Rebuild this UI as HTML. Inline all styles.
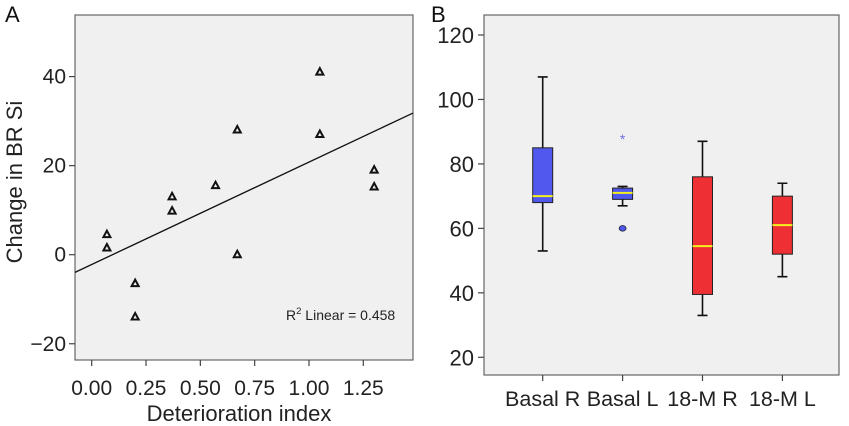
<!DOCTYPE html>
<html><head><meta charset="utf-8"><style>
html,body{margin:0;padding:0;background:#fff;}
svg{display:block;font-family:"Liberation Sans",sans-serif;}
</style></head><body>
<svg id="chart" width="849" height="426" viewBox="0 0 849 426">
<text x="5" y="22" font-size="22" fill="#111">A</text>
<text x="431" y="22" font-size="22" fill="#111">B</text>
<g id="pa"></g>
<g id="pb"></g>
</svg>
<script>
// Panel A data
const xVals = [0.07,0.07,0.20,0.20,0.37,0.37,0.57,0.67,0.67,1.05,1.05,1.30,1.30];
const yVals = [4.5,1.5,-6.5,-14,13,9.8,15.5,28,0,41,27,19,15.2];
const xTicksA = [0,0.25,0.5,0.75,1,1.25];
const xTickLabelsA = ["0.00","0.25","0.50","0.75","1.00","1.25"];
const yTicksA = [40,20,0,-20];
const yTickLabelsA = ["40","20","0","\u221220"];
const fitLine = [-2.2, 23.0]; // intercept, slope
// Panel B data
const cats = ["Basal R","Basal L","18-M R","18-M L"];
const mins = [53,67,33,45];
const q1s = [68,69,39.5,52];
const meds = [70,71,54.5,61];
const q3s = [85,72.5,76,70];
const maxs = [107,73,87,74];
const colors = ["#5058ee","#5058ee","#ee3035","#ee3035"];
const outlierCircles = [[1,60]];
const outlierStars = [[1,88]];
const yTicksB = [20,40,60,80,100,120];

const NS="http://www.w3.org/2000/svg";
function mk(parent,tag,attrs,text){const e=document.createElementNS(NS,tag);for(const k in attrs)e.setAttribute(k,attrs[k]);if(text!==undefined)e.textContent=text;parent.appendChild(e);return e;}

// Panel A
const pa=document.getElementById('pa');
const ax=v=>91.7+v*(363.3-91.7)/1.25;
const ay=v=>254.7-v*4.4525;
let r=mk(pa,'rect',{x:75,y:15,width:338,height:345,fill:'#f0f0f0',stroke:'#666','stroke-width':1.2});


xTicksA.forEach((t,i)=>{
  let l=mk(pa,'line',{x1:ax(t),x2:ax(t),y1:360,y2:366,stroke:'#444','stroke-width':1.2});
  
  
  let tx=mk(pa,'text',{x:ax(t),y:395,'font-size':21,'text-anchor':'middle',fill:'#222'},xTickLabelsA[i]);
  
  
});
yTicksA.forEach((t,i)=>{
  let l=mk(pa,'line',{x1:69,x2:75,y1:ay(t),y2:ay(t),stroke:'#444','stroke-width':1.2});
  
  
  let tx=mk(pa,'text',{x:66,y:ay(t)+7,'font-size':21,'text-anchor':'end',fill:'#222'},yTickLabelsA[i]);
  
  
});
const x0=(75-91.7)*1.25/(363.3-91.7), x1=(413-91.7)*1.25/(363.3-91.7);
let fl=mk(pa,'line',{x1:75,y1:ay(fitLine[0]+fitLine[1]*x0),x2:413,y2:ay(fitLine[0]+fitLine[1]*x1),stroke:'#111','stroke-width':1.3});


xVals.forEach((xv,i)=>{
  const cx=ax(xv),cy=ay(yVals[i]);
  let p=mk(pa,'path',{d:`M${cx},${cy-4}L${cx+3.5},${cy+2.5}L${cx-3.5},${cy+2.5}Z`,fill:'none',stroke:'#111','stroke-width':2});
  
  
});
let r2=mk(pa,'text',{x:286,y:320,'font-size':14,fill:'#222'});
r2.innerHTML='R<tspan font-size="9.5" dy="-6">2</tspan><tspan dy="6"> Linear = 0.458</tspan>';


let xt=mk(pa,'text',{x:239,y:421,'font-size':22,'text-anchor':'middle',fill:'#222'},'Deterioration index');


let yt=mk(pa,'text',{x:0,y:0,'font-size':22,'text-anchor':'middle',fill:'#222',transform:'translate(22,182) rotate(-90)'},'Change in BR Si');



// Panel B
const pb=document.getElementById('pb');
const bx=i=>542.7+i*79.9;
const by=v=>357.3-(v-20)*3.223;
let rb=mk(pb,'rect',{x:484,y:15,width:355,height:360,fill:'#f0f0f0',stroke:'#666','stroke-width':1.2});


yTicksB.forEach(t=>{
  let l=mk(pb,'line',{x1:478,x2:484,y1:by(t),y2:by(t),stroke:'#444','stroke-width':1.2});
  
  
  let tx=mk(pb,'text',{x:474,y:by(t)+8,'font-size':22,'text-anchor':'end',fill:'#222'},String(t));
  
  
});
cats.forEach((c,i)=>{
  const cx=bx(i);
  let l=mk(pb,'line',{x1:cx,x2:cx,y1:375,y2:381,stroke:'#444','stroke-width':1.2});
  
  
  let tx=mk(pb,'text',{x:cx,y:406,'font-size':21.5,'text-anchor':'middle',fill:'#222'},c);
  
  
  let w=mk(pb,'path',{d:`M${cx},${by(maxs[i])}V${by(q3s[i])}M${cx},${by(q1s[i])}V${by(mins[i])}M${cx-5},${by(maxs[i])}H${cx+5}M${cx-5},${by(mins[i])}H${cx+5}`,stroke:'#111','stroke-width':1.6,fill:'none'});
  
  
  let b=mk(pb,'rect',{x:cx-10,y:by(q3s[i]),width:20,height:by(q1s[i])-by(q3s[i]),fill:colors[i],stroke:'#222','stroke-width':1});
  
  
  let m=mk(pb,'line',{x1:cx-10,x2:cx+10,y1:by(meds[i]),y2:by(meds[i]),stroke:'#f4f020','stroke-width':2});
  
  
});
outlierCircles.forEach(o=>{
  let c=mk(pb,'ellipse',{cx:bx(o[0]),cy:by(o[1]),rx:3.5,ry:2.8,fill:'#5058ee',stroke:'#223','stroke-width':0.8});
  
  
});
outlierStars.forEach(o=>{
  let s=mk(pb,'text',{x:bx(o[0]),y:by(o[1])+6,'font-size':14,'text-anchor':'middle',fill:'#7070e0'},'*');
  
  
});
</script>
</body></html>
